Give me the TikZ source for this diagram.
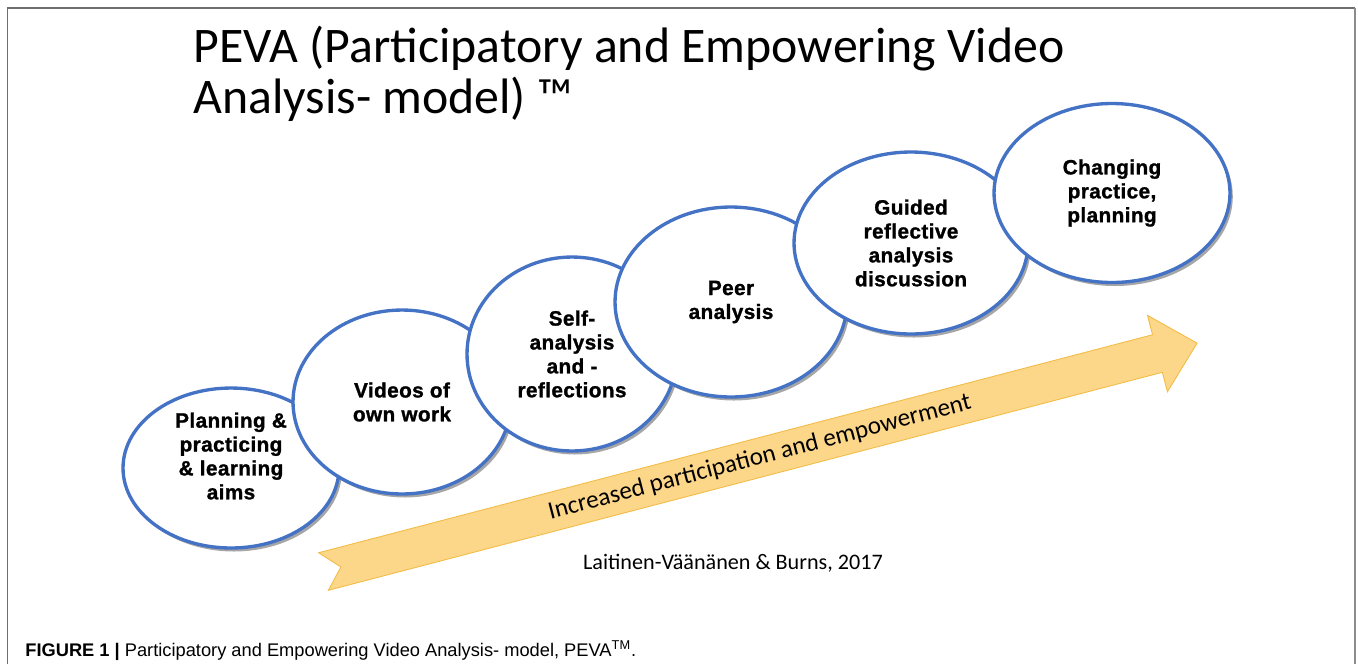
\documentclass[tikz,border=0pt]{standalone}
\usepackage{fontspec}
\usepackage{tikz}
\usetikzlibrary{shapes.geometric,shadows}
\setmainfont{Carlito}
\newfontfamily\bubblefont[LetterSpace=2, BoldFeatures={FakeBold=1.2}]{Liberation Sans}
\newfontfamily\capfont{Liberation Sans}
\definecolor{bubbleblue}{RGB}{68,114,196}
\definecolor{arrowgold}{RGB}{252,215,138}
\definecolor{arrowedge}{RGB}{242,188,70}
\definecolor{framegray}{RGB}{110,110,110}

\begin{document}
\begin{tikzpicture}[x=0.02cm, y=-0.02cm,
  bubbletext/.style={align=center, inner sep=0pt, font=\bubblefont\bfseries\fontsize{11.8}{13.6}\selectfont},
  bubble/.style={ellipse, draw=bubbleblue, line width=1.9pt, fill=white, bubbletext,
    drop shadow={shadow xshift=1.6pt, shadow yshift=-2pt, fill=black!50, opacity=0.7}},
  arrowbody/.style={fill=arrowgold, draw=arrowedge, line width=0.5pt}]

\useasboundingbox (0,0) rectangle (1358,664);
\draw[framegray, line width=0.8pt] (7.5,664) -- (7.5,8) -- (1355,8); %frame
\draw[framegray!80, line width=1.4pt] (1355,8) -- (1355,664); %frame right

\node[anchor=base west, align=left, inner sep=0pt, font=\fontsize{28.35}{28.9}\selectfont] (title) at (193,113) {PEVA (Participatory and Empowering Video\\Analysis- model) ™};

% arrow
\begin{scope}[shift={(323.5,571.5)}, rotate=14.65]
\draw[arrowbody] (0,-19.4) -- (18,0) -- (0,19.4) -- (862,19.4) -- (862,39.5) -- (903,0) -- (862,-39.5) -- (862,-19.4) -- cycle;
\node[rotate=14.65, font=\fontsize{14.3}{17}\selectfont] (increase) at (451,0) {Increased participation and empowerment};
\end{scope}

\node[bubble, minimum width=4.32cm, minimum height=3.2cm,
  label={[bubbletext, name=planningtext, yshift=6.8pt]center:Planning \&\\practicing\\\& learning\\aims}] (planning) at (231,468) {};
\node[bubble, minimum width=4.36cm, minimum height=3.68cm] (videos) at (402,402) {Videos of\\own work};
\node[bubble, minimum width=4.2cm, minimum height=3.88cm] (self) at (572,354) {Self-\\analysis\\and -\\reflections};
\node[bubble, minimum width=4.64cm, minimum height=3.8cm] (peer) at (731,302) {Peer\\analysis};
\node[bubble, minimum width=4.68cm, minimum height=3.64cm] (guided) at (911,243) {Guided\\reflective\\analysis\\discussion};
\node[bubble, minimum width=4.72cm, minimum height=3.58cm] (changing) at (1112,193) {Changing\\practice,\\planning};

\node[font=\fontsize{12.6}{15}\selectfont] (source) at (733,563) {Laitinen-Väänänen \& Burns, 2017};

\node[anchor=base west, inner sep=0pt, font=\capfont\fontsize{10.4}{12}\selectfont] (caption) at (25,656) {\textbf{FIGURE 1 |} Participatory and Empowering Video Analysis- model, PEVA\textsuperscript{TM}.};
\end{tikzpicture}
\end{document}
